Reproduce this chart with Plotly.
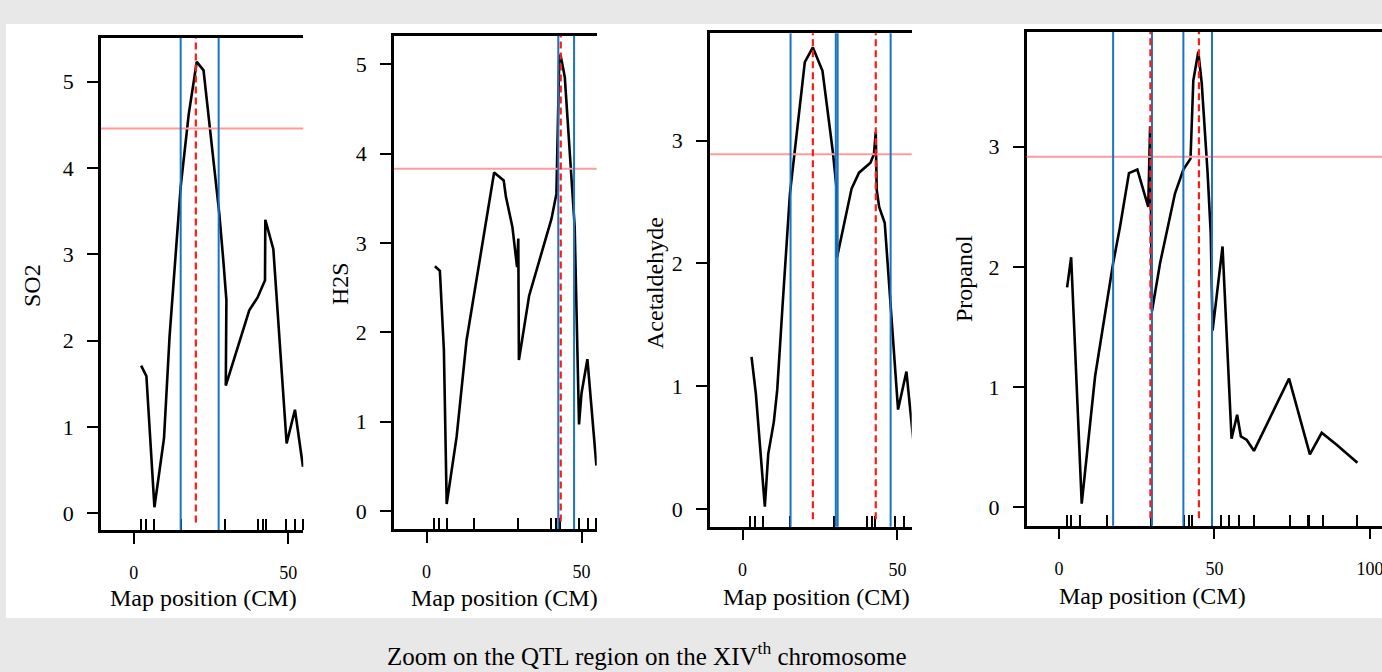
import plotly.graph_objects as go

# ---------------- data ----------------
markers = [2.5, 3.9, 6.6, 15.3, 29.5, 40.3, 41.8, 42.9, 49.3, 52.1, 54.7, 57.7,
           62.7, 74.3, 80.0, 80.5, 84.8, 95.9]
markers_p4 = [2.5, 3.9, 6.6, 15.3, 29.5, 40.3, 41.8, 42.9, 49.3, 52.1, 54.7, 58.0,
              62.7, 74.3, 80.0, 80.5, 84.8, 95.9]

so2_pos = [2.4, 4.1, 6.7, 9.8, 11.6, 15.2, 17.8, 20.4, 22.6, 27.7, 29.0, 30.0, 29.8,
           37.4, 40.1, 42.5, 42.6, 45.2, 49.5, 52.2, 54.8]
so2_lod = [1.71, 1.59, 0.07, 0.87, 2.05, 3.78, 4.62, 5.23, 5.13, 3.47, 2.93, 2.47, 1.48,
           2.35, 2.50, 2.70, 3.40, 3.06, 0.81, 1.20, 0.54]

h2s_pos = [2.7, 4.3, 5.6, 6.5, 9.7, 12.9, 21.8, 24.9, 25.6, 27.7, 29.2, 29.6, 29.8,
           33.1, 40.3, 41.9, 42.8, 43.2, 44.6, 47.8, 49.2, 50.0, 51.9, 54.8]
h2s_lod = [2.74, 2.69, 1.80, 0.08, 0.83, 1.91, 3.79, 3.70, 3.52, 3.18, 2.73, 3.05, 1.69,
           2.41, 3.27, 3.55, 5.04, 5.11, 4.86, 3.18, 0.97, 1.32, 1.70, 0.51]

acet_pos = [2.9, 4.3, 7.2, 8.3, 10.1, 11.2, 12.9, 15.3, 20.1, 22.7, 25.8, 29.2, 30.3, 30.5,
            35.2, 37.6, 41.3, 42.4, 43.0, 43.3, 44.1, 45.9, 50.2, 52.9, 54.8, 55.6]
acet_lod = [1.24, 0.94, 0.02, 0.45, 0.71, 0.97, 1.65, 2.57, 3.64, 3.76, 3.57, 2.90, 2.62, 2.05,
            2.61, 2.74, 2.82, 2.89, 3.07, 2.60, 2.46, 2.33, 0.81, 1.12, 0.64, 0.45]

prop_pos = [2.6, 3.9, 4.7, 7.3, 11.6, 14.0, 17.4, 19.6, 22.5, 25.2, 28.7, 29.3, 29.9, 32.5,
            37.3, 40.0, 42.3, 43.2, 44.8, 45.9, 47.8, 48.8, 49.4, 52.6, 55.5, 57.3, 58.5,
            60.4, 62.7, 74.0, 80.7, 84.5, 89.3, 96.0]
prop_lod = [1.83, 2.08, 1.60, 0.03, 1.09, 1.48, 2.03, 2.33, 2.78, 2.81, 2.50, 3.17, 1.63, 2.03,
            2.61, 2.81, 2.90, 3.55, 3.79, 3.53, 2.78, 2.28, 1.47, 2.17, 0.57, 0.77, 0.59,
            0.56, 0.47, 1.07, 0.44, 0.62, 0.52, 0.37]

traits = ["SO2", "H2S", "Acetaldehyde", "Propanol"]
thresholds = [4.457, 3.83, 2.89, 2.917]
ci_lines = [[15.2, 27.5], [42.5, 47.6], [15.5, 30.1, 30.7, 47.8], [17.4, 29.9, 40.0, 49.2]]
qtl_peaks = [[20.1], [43.3], [22.7, 43.0], [29.4, 45.0]]
x_ranges = [[-10.6, 54.9], [-10.5, 54.9], [-10.5, 54.6], [-10.4, 103.9]]
y_ranges = [[-0.193, 5.505], [-0.20, 5.32], [-0.144, 3.875], [-0.153, 3.954]]
y_ticks = [[0, 1, 2, 3, 4, 5], [0, 1, 2, 3, 4, 5], [0, 1, 2, 3], [0, 1, 2, 3]]
x_ticks = [[0, 50], [0, 50], [0, 50], [0, 50, 100]]
rugs = [markers, markers, markers, markers_p4]
curves = [(so2_pos, so2_lod), (h2s_pos, h2s_lod), (acet_pos, acet_lod), (prop_pos, prop_lod)]
xlabel = "Map position (CM)"
caption = "Zoom on the QTL region on the XIV<sup>th</sup> chromosome"

# ---------------- layout helpers ----------------
W, H = 1382, 672
def fx(px):
    return px / W
def fy(py):
    return 1 - py / H

FONT = "Liberation Serif, Times New Roman, serif"
boxes = [(101, 303.3, 38, 530), (394, 596.7, 35.7, 529), (710, 911.7, 33.3, 526.7),
         (1026.7, 1382, 32, 525.7)]
ylab_pos = [(32, 285), (340, 284), (655, 283), (964, 278)]
xlab_pos = [(203, 598), (504, 598), (816, 597), (1152, 596)]

BLUE = "#1a74c4"
fig = go.Figure()
layout = dict(
    width=W, height=H,
    margin=dict(l=0, r=0, t=0, b=0),
    paper_bgcolor="#e8e8e8",
    plot_bgcolor="rgba(0,0,0,0)",
    showlegend=False,
    font=dict(family=FONT, color="black"),
)
shapes = [dict(type="rect", xref="paper", yref="paper", x0=fx(6), x1=1.0,
               y0=fy(618), y1=fy(24), fillcolor="white", line=dict(width=0),
               layer="below")]
annotations = []

for i in range(4):
    n = "" if i == 0 else str(i + 1)
    xa, ya = "x" + n, "y" + n
    x0, x1, y0, y1 = boxes[i]
    px_, py_ = curves[i]
    fig.add_trace(go.Scatter(x=px_, y=py_, mode="lines", xaxis=xa, yaxis=ya,
                             line=dict(color="black", width=2.6), hoverinfo="skip"))
    layout["xaxis" + n] = dict(
        domain=[fx(x0), min(fx(x1), 1.0)], anchor=ya, range=x_ranges[i],
        showline=True, linecolor="black", linewidth=2.5, mirror=True,
        showgrid=False, zeroline=False,
        tickmode="array", tickvals=x_ticks[i], ticks="outside", ticklen=11,
        tickwidth=2, tickcolor="black", ticklabelstandoff=14,
        ticklabeloverflow="allow",
        tickfont=dict(family=FONT, size=18, color="black"),
        minor=dict(tickmode="array", tickvals=rugs[i], ticks="inside", ticklen=11,
                   tickwidth=2, tickcolor="black", showgrid=False),
    )
    layout["yaxis" + n] = dict(
        domain=[fy(y1), fy(y0)], anchor=xa, range=y_ranges[i],
        showline=True, linecolor="black", linewidth=2.5, mirror=False,
        showgrid=False, zeroline=False,
        tickmode="array", tickvals=y_ticks[i], ticks="outside", ticklen=11,
        tickwidth=2, tickcolor="black", ticklabelstandoff=9,
        tickfont=dict(family=FONT, size=22, color="black"),
    )
    shapes.append(dict(type="line", xref=xa + " domain", yref=ya,
                       x0=0, x1=1, y0=thresholds[i], y1=thresholds[i],
                       line=dict(color="#ff9b9b", width=2)))
    for v in ci_lines[i]:
        shapes.append(dict(type="line", xref=xa, yref=ya + " domain", x0=v, x1=v,
                           y0=0, y1=1, line=dict(color=BLUE, width=2)))
    for v in qtl_peaks[i]:
        shapes.append(dict(type="line", xref=xa, yref=ya + " domain", x0=v, x1=v,
                           y0=0.015, y1=1, line=dict(color="#ff1a1a", width=2.2,
                                                     dash="7px,4px")))
    lx, ly = ylab_pos[i]
    annotations.append(dict(text=traits[i], xref="paper", yref="paper", x=fx(lx), y=fy(ly),
                            xanchor="center", yanchor="middle", textangle=-90,
                            showarrow=False, font=dict(family=FONT, size=24, color="black")))
    lx, ly = xlab_pos[i]
    annotations.append(dict(text=xlabel, xref="paper", yref="paper", x=fx(lx), y=fy(ly),
                            xanchor="center", yanchor="middle", showarrow=False,
                            font=dict(family=FONT, size=24, color="black")))

annotations.append(dict(text=caption, xref="paper", yref="paper", x=fx(647), y=fy(654),
                        xanchor="center", yanchor="middle", showarrow=False,
                        font=dict(family=FONT, size=25, color="black")))

layout["shapes"] = shapes
layout["annotations"] = annotations
fig.update_layout(**layout)
fig.write_html("out.html",
               config={"displayModeBar": False},
               post_script="document.body.style.margin='0';"
                           "document.body.style.background='#e8e8e8';")
